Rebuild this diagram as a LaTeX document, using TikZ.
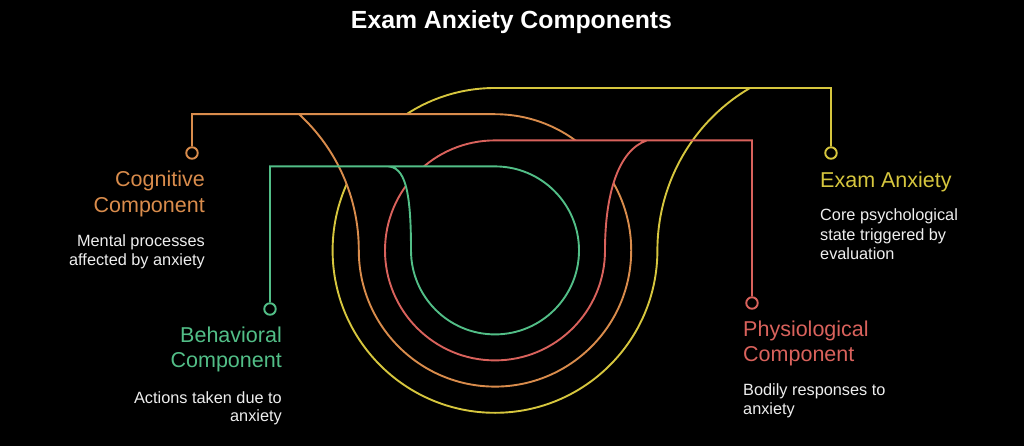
\documentclass[tikz,border=0pt]{standalone}
\usepackage{fontspec}
\setmainfont{Liberation Sans}
\definecolor{cy}{RGB}{214,198,62}
\definecolor{co}{RGB}{217,140,76}
\definecolor{cr}{RGB}{217,98,92}
\definecolor{cg}{RGB}{82,190,135}
\definecolor{dtxt}{RGB}{238,238,238}
\begin{document}
\begin{tikzpicture}[x=1pt,y=1pt,
  wire/.style={line width=1.9pt},
  term/.style={circle, draw, line width=1.9pt, fill=black, minimum size=11.5pt, inner sep=0pt},
  head/.style={font=\fontsize{21.5}{26}\selectfont, inner sep=0pt},
  desc/.style={font=\fontsize{16.3}{19}\selectfont, text=dtxt, inner sep=0pt}]
\fill[black] (0,0) rectangle (1024,-446);
\useasboundingbox (0,0) rectangle (1024,-446);

% terminals
\node[term, draw=cy] (ty) at (831,-153) {};
\node[term, draw=co] (to) at (192,-153) {};
\node[term, draw=cr] (tr) at (752,-303) {};
\node[term, draw=cg] (tg) at (270,-309) {};

% yellow (bottom layer)
\fill[black] (750,-88) -- (495,-88) arc[start angle=90,end angle=360,radius=162.4]
  .. controls (657.4,-183.5) and (692.6,-121.5) .. (750,-88) -- cycle;
\draw[wire,cy] (ty.north) -- (831,-88) -- (495,-88) arc[start angle=90,end angle=360,radius=162.4]
  .. controls (657.4,-183.5) and (692.6,-121.5) .. (750,-88);

% orange
\fill[black] (299,-114.2) -- (495,-114.2) arc[start angle=90,end angle=-180,radius=136.2]
  .. controls (358.8,-198) and (337,-149) .. (299,-114.2) -- cycle;
\draw[wire,co] (to.north) -- (192,-114.2) -- (495,-114.2) arc[start angle=90,end angle=-180,radius=136.2]
  .. controls (358.8,-198) and (337,-149) .. (299,-114.2);

% red
\fill[black] (647,-140.4) -- (495,-140.4) arc[start angle=90,end angle=360,radius=110]
  .. controls (605,-195) and (618,-150) .. (647,-140.4) -- cycle;
\draw[wire,cr] (tr.north) -- (752,-140.4) -- (495,-140.4) arc[start angle=90,end angle=360,radius=110]
  .. controls (605,-195) and (618,-150) .. (647,-140.4);

% green (top layer)
\fill[black] (387,-166.4) -- (495,-166.4) arc[start angle=90,end angle=-180,radius=84]
  .. controls (411,-190) and (405,-166.4) .. (387,-166.4) -- cycle;
\draw[wire,cg] (tg.north) -- (270,-166.4) -- (495,-166.4) arc[start angle=90,end angle=-180,radius=84]
  .. controls (411,-190) and (405,-166.4) .. (387,-166.4);

% title
\node[font=\bfseries\fontsize{24.8}{28}\selectfont, text=white, anchor=base, inner sep=0pt] (title) at (511.5,-28.3) {Exam Anxiety Components};

% cognitive
\node[head, text=co, anchor=base east] (cog1) at (205,-187) {Cognitive};
\node[head, text=co, anchor=base east] (cog2) at (205,-213) {Component};
\node[desc, anchor=base east] (cogd1) at (205,-246.5) {Mental processes};
\node[desc, anchor=base east] (cogd2) at (205,-265.5) {affected by anxiety};

% behavioral
\node[head, text=cg, anchor=base east] (beh1) at (282,-342.7) {Behavioral};
\node[head, text=cg, anchor=base east] (beh2) at (282,-367) {Component};
\node[desc, anchor=base east] (behd1) at (282,-403) {Actions taken due to};
\node[desc, anchor=base east] (behd2) at (282,-421.5) {anxiety};

% physiological
\node[head, text=cr, anchor=base west] (phy1) at (743,-336) {Physiological};
\node[head, text=cr, anchor=base west] (phy2) at (743,-361.7) {Component};
\node[desc, anchor=base west] (phyd1) at (743,-395) {Bodily responses to};
\node[desc, anchor=base west] (phyd2) at (743,-414) {anxiety};

% exam anxiety
\node[head, text=cy, anchor=base west] (ex1) at (820,-187.3) {Exam Anxiety};
\node[desc, anchor=base west] (exd1) at (820,-220.7) {Core psychological};
\node[desc, anchor=base west] (exd2) at (820,-240.2) {state triggered by};
\node[desc, anchor=base west] (exd3) at (820,-259.5) {evaluation};
\end{tikzpicture}
\end{document}
